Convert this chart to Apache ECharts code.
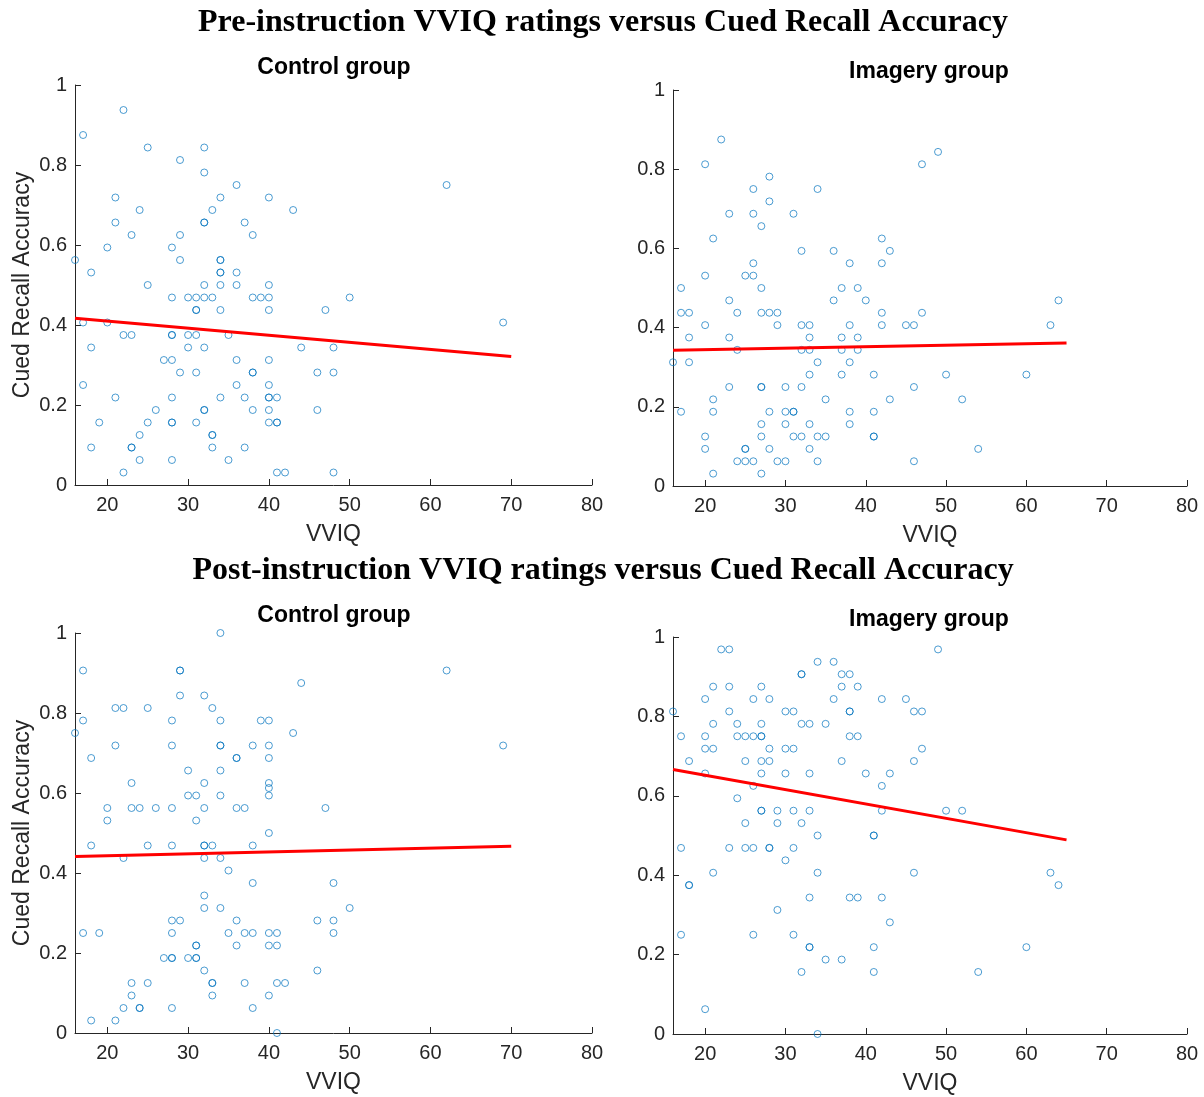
<!DOCTYPE html>
<html>
<head>
<meta charset="utf-8">
<script src="https://cdn.jsdelivr.net/npm/echarts@6/dist/echarts.min.js"></script>
<style>html,body{margin:0;padding:0;background:#fff}#c{width:1204px;height:1097px}</style>
</head>
<body>
<div id="c"></div>
<script>
// ---- Data (VVIQ, Cued Recall Accuracy) ----
const preControl = [
 [22,0.9375],[17,0.875],[25,0.84375],[32,0.84375],[29,0.8125],[32,0.78125],[36,0.75],[62,0.75],
 [21,0.71875],[34,0.71875],[40,0.71875],[24,0.6875],[33,0.6875],[43,0.6875],
 [21,0.65625],[32,0.65625],[32,0.65625],[37,0.65625],[23,0.625],[29,0.625],[38,0.625],
 [20,0.59375],[28,0.59375],[16,0.5625],[29,0.5625],[34,0.5625],[34,0.5625],
 [18,0.53125],[34,0.53125],[34,0.53125],[36,0.53125],
 [25,0.5],[32,0.5],[34,0.5],[36,0.5],[40,0.5],
 [28,0.46875],[30,0.46875],[31,0.46875],[32,0.46875],[33,0.46875],[38,0.46875],[39,0.46875],[40,0.46875],[50,0.46875],
 [31,0.4375],[31,0.4375],[34,0.4375],[40,0.4375],[47,0.4375],
 [17,0.40625],[20,0.40625],[69,0.40625],
 [22,0.375],[23,0.375],[28,0.375],[28,0.375],[30,0.375],[31,0.375],[35,0.375],
 [18,0.34375],[30,0.34375],[32,0.34375],[44,0.34375],[48,0.34375],
 [27,0.3125],[28,0.3125],[36,0.3125],[40,0.3125],
 [29,0.28125],[31,0.28125],[38,0.28125],[38,0.28125],[46,0.28125],[48,0.28125],
 [17,0.25],[36,0.25],[40,0.25],
 [21,0.21875],[28,0.21875],[34,0.21875],[37,0.21875],[40,0.21875],[40,0.21875],[41,0.21875],
 [26,0.1875],[32,0.1875],[32,0.1875],[38,0.1875],[40,0.1875],[46,0.1875],
 [19,0.15625],[25,0.15625],[28,0.15625],[28,0.15625],[31,0.15625],[40,0.15625],[41,0.15625],[41,0.15625],
 [24,0.125],[33,0.125],[33,0.125],
 [18,0.09375],[23,0.09375],[23,0.09375],[33,0.09375],[37,0.09375],
 [24,0.0625],[28,0.0625],[35,0.0625],
 [22,0.03125],[41,0.03125],[42,0.03125],[48,0.03125]
];
const preImagery = [
 [22,0.875],[49,0.84375],[20,0.8125],[47,0.8125],[28,0.78125],[26,0.75],[34,0.75],[28,0.71875],
 [23,0.6875],[26,0.6875],[31,0.6875],[27,0.65625],[21,0.625],[42,0.625],
 [32,0.59375],[36,0.59375],[43,0.59375],[26,0.5625],[38,0.5625],[42,0.5625],
 [20,0.53125],[25,0.53125],[26,0.53125],[17,0.5],[27,0.5],[37,0.5],[39,0.5],
 [23,0.46875],[36,0.46875],[40,0.46875],[64,0.46875],
 [17,0.4375],[18,0.4375],[24,0.4375],[27,0.4375],[28,0.4375],[29,0.4375],[42,0.4375],[47,0.4375],
 [20,0.40625],[29,0.40625],[32,0.40625],[33,0.40625],[38,0.40625],[42,0.40625],[45,0.40625],[46,0.40625],[63,0.40625],
 [18,0.375],[23,0.375],[33,0.375],[37,0.375],[39,0.375],
 [24,0.34375],[32,0.34375],[33,0.34375],[37,0.34375],[39,0.34375],
 [16,0.3125],[18,0.3125],[34,0.3125],[38,0.3125],
 [33,0.28125],[37,0.28125],[41,0.28125],[50,0.28125],[60,0.28125],
 [23,0.25],[27,0.25],[27,0.25],[30,0.25],[32,0.25],[46,0.25],
 [21,0.21875],[35,0.21875],[43,0.21875],[52,0.21875],
 [17,0.1875],[21,0.1875],[28,0.1875],[30,0.1875],[31,0.1875],[31,0.1875],[38,0.1875],[41,0.1875],
 [27,0.15625],[30,0.15625],[33,0.15625],[38,0.15625],
 [20,0.125],[27,0.125],[31,0.125],[32,0.125],[34,0.125],[35,0.125],[41,0.125],[41,0.125],
 [20,0.09375],[25,0.09375],[25,0.09375],[28,0.09375],[33,0.09375],[54,0.09375],
 [24,0.0625],[25,0.0625],[26,0.0625],[29,0.0625],[30,0.0625],[34,0.0625],[46,0.0625],
 [21,0.03125],[27,0.03125]
];
const postControl = [
 [34,1.0],[17,0.90625],[29,0.90625],[29,0.90625],[62,0.90625],[44,0.875],[29,0.84375],[32,0.84375],
 [21,0.8125],[22,0.8125],[25,0.8125],[33,0.8125],
 [17,0.78125],[28,0.78125],[34,0.78125],[39,0.78125],[40,0.78125],[16,0.75],[43,0.75],
 [21,0.71875],[28,0.71875],[34,0.71875],[34,0.71875],[38,0.71875],[40,0.71875],[69,0.71875],
 [18,0.6875],[36,0.6875],[36,0.6875],[40,0.6875],[30,0.65625],[34,0.65625],
 [23,0.625],[32,0.625],[40,0.625],[40,0.6125],
 [30,0.59375],[31,0.59375],[34,0.59375],[40,0.59375],
 [20,0.5625],[23,0.5625],[24,0.5625],[26,0.5625],[28,0.5625],[32,0.5625],[36,0.5625],[37,0.5625],[47,0.5625],
 [20,0.53125],[31,0.53125],[40,0.5],
 [18,0.46875],[25,0.46875],[28,0.46875],[32,0.46875],[32,0.46875],[33,0.46875],[38,0.46875],
 [22,0.4375],[32,0.4375],[34,0.4375],[35,0.40625],[38,0.375],[48,0.375],[32,0.34375],
 [32,0.3125],[34,0.3125],[50,0.3125],
 [28,0.28125],[29,0.28125],[36,0.28125],[46,0.28125],[48,0.28125],
 [17,0.25],[19,0.25],[28,0.25],[35,0.25],[37,0.25],[38,0.25],[40,0.25],[41,0.25],[48,0.25],
 [31,0.21875],[31,0.21875],[36,0.21875],[40,0.21875],[41,0.21875],
 [27,0.1875],[28,0.1875],[28,0.1875],[30,0.1875],[31,0.1875],[31,0.1875],
 [32,0.15625],[46,0.15625],
 [23,0.125],[25,0.125],[33,0.125],[33,0.125],[37,0.125],[41,0.125],[42,0.125],
 [23,0.09375],[33,0.09375],[40,0.09375],
 [22,0.0625],[24,0.0625],[24,0.0625],[28,0.0625],[38,0.0625],
 [18,0.03125],[21,0.03125],[41,0]
];
const postImagery = [
 [22,0.96875],[23,0.96875],[49,0.96875],[34,0.9375],[36,0.9375],
 [32,0.90625],[32,0.90625],[37,0.90625],[38,0.90625],
 [21,0.875],[23,0.875],[27,0.875],[37,0.875],[39,0.875],
 [20,0.84375],[26,0.84375],[28,0.84375],[36,0.84375],[42,0.84375],[45,0.84375],
 [16,0.8125],[23,0.8125],[30,0.8125],[31,0.8125],[38,0.8125],[38,0.8125],[46,0.8125],[47,0.8125],
 [21,0.78125],[24,0.78125],[27,0.78125],[32,0.78125],[33,0.78125],[35,0.78125],
 [17,0.75],[20,0.75],[24,0.75],[25,0.75],[26,0.75],[27,0.75],[27,0.75],[38,0.75],[39,0.75],
 [20,0.71875],[21,0.71875],[28,0.71875],[30,0.71875],[31,0.71875],[47,0.71875],
 [18,0.6875],[25,0.6875],[27,0.6875],[28,0.6875],[37,0.6875],[46,0.6875],
 [20,0.65625],[27,0.65625],[30,0.65625],[33,0.65625],[40,0.65625],[43,0.65625],
 [26,0.625],[42,0.625],[24,0.59375],
 [27,0.5625],[27,0.5625],[29,0.5625],[31,0.5625],[33,0.5625],[42,0.5625],[50,0.5625],[52,0.5625],
 [25,0.53125],[29,0.53125],[32,0.53125],[34,0.5],[41,0.5],[41,0.5],
 [17,0.46875],[23,0.46875],[25,0.46875],[26,0.46875],[28,0.46875],[28,0.46875],[31,0.46875],
 [30,0.4375],[21,0.40625],[34,0.40625],[46,0.40625],[63,0.40625],
 [18,0.375],[18,0.375],[64,0.375],
 [33,0.34375],[38,0.34375],[39,0.34375],[42,0.34375],[29,0.3125],[43,0.28125],
 [17,0.25],[26,0.25],[31,0.25],[33,0.21875],[33,0.21875],[41,0.21875],[60,0.21875],
 [35,0.1875],[37,0.1875],[32,0.15625],[41,0.15625],[54,0.15625],[20,0.0625],[34,0]
];
// Least-squares lines as drawn (endpoints)
const preControlFit  = [[16,0.417],[70,0.321]];
const preImageryFit  = [[16,0.343],[65,0.361]];
const postControlFit = [[16,0.441],[70,0.467]];
const postImageryFit = [[16,0.666],[65,0.489]];
const xTicks = [20,30,40,50,60,70,80];
const panelTitles = ['Control group','Imagery group','Control group','Imagery group'];
const mainTitles = ['Pre-instruction VVIQ ratings versus Cued Recall Accuracy','Post-instruction VVIQ ratings versus Cued Recall Accuracy'];

const panels = [preControl, preImagery, postControl, postImagery];
const fits = [preControlFit, preImageryFit, postControlFit, postImageryFit];
const grids = [
  {left:75, top:85, width:517, height:400},
  {left:673, top:90, width:514, height:396},
  {left:75, top:633, width:517, height:400},
  {left:673, top:637, width:514, height:397}
];
const ink = '#262626';
const sans = 'Liberation Sans';
const xAxes = [], yAxes = [], series = [];
grids.forEach((g, i) => {
  xAxes.push({
    type:'value', gridIndex:i, min:16, max:80,
    name:'VVIQ', nameLocation:'middle', nameGap:38,
    nameTextStyle:{color:ink, fontSize:23, fontFamily:sans},
    axisLine:{onZero:false, lineStyle:{color:ink, width:1}},
    axisTick:{inside:true, length:6, customValues:xTicks, lineStyle:{color:ink}},
    axisLabel:{customValues:xTicks, color:ink, fontSize:20, fontFamily:sans, margin:10},
    splitLine:{show:false}
  });
  yAxes.push({
    type:'value', gridIndex:i, min:0, max:1, interval:0.2,
    name: (i % 2 === 0) ? 'Cued Recall Accuracy' : '',
    nameLocation:'middle', nameGap:41,
    nameTextStyle:{color:ink, fontSize:23, fontFamily:sans},
    axisLine:{show:true, onZero:false, lineStyle:{color:ink, width:1}},
    axisTick:{show:true, inside:true, length:6, lineStyle:{color:ink}},
    axisLabel:{color:ink, fontSize:20, fontFamily:sans, margin:8},
    splitLine:{show:false}
  });
  series.push({
    type:'scatter', xAxisIndex:i, yAxisIndex:i, data:panels[i],
    symbol:'circle', symbolSize:7,
    itemStyle:{color:'rgba(0,0,0,0)', borderColor:'#0072BD', borderWidth:1, opacity:0.7},
    emphasis:{disabled:true}, z:2
  });
  series.push({
    type:'line', xAxisIndex:i, yAxisIndex:i, data:fits[i],
    symbol:'none', lineStyle:{color:'#FF0000', width:3}, z:3, silent:true
  });
});

const graphic = [
  {type:'text', x:603, y:23, style:{text:mainTitles[0], font:'bold 32px "Liberation Serif"', fill:'#000', textAlign:'center', textVerticalAlign:'middle'}},
  {type:'text', x:603, y:571, style:{text:mainTitles[1], font:'bold 32px "Liberation Serif"', fill:'#000', textAlign:'center', textVerticalAlign:'middle'}},
  {type:'text', x:334, y:68, style:{text:panelTitles[0], font:'bold 23px "Liberation Sans"', fill:'#000', textAlign:'center', textVerticalAlign:'middle'}},
  {type:'text', x:929, y:72, style:{text:panelTitles[1], font:'bold 23px "Liberation Sans"', fill:'#000', textAlign:'center', textVerticalAlign:'middle'}},
  {type:'text', x:334, y:616, style:{text:panelTitles[2], font:'bold 23px "Liberation Sans"', fill:'#000', textAlign:'center', textVerticalAlign:'middle'}},
  {type:'text', x:929, y:620, style:{text:panelTitles[3], font:'bold 23px "Liberation Sans"', fill:'#000', textAlign:'center', textVerticalAlign:'middle'}}
];

const chart = echarts.init(document.getElementById('c'), null, {renderer:'canvas'});
chart.setOption({
  animation:false,
  backgroundColor:'#fff',
  grid:grids, xAxis:xAxes, yAxis:yAxes, series:series, graphic:graphic
});
</script>
</body>
</html>
